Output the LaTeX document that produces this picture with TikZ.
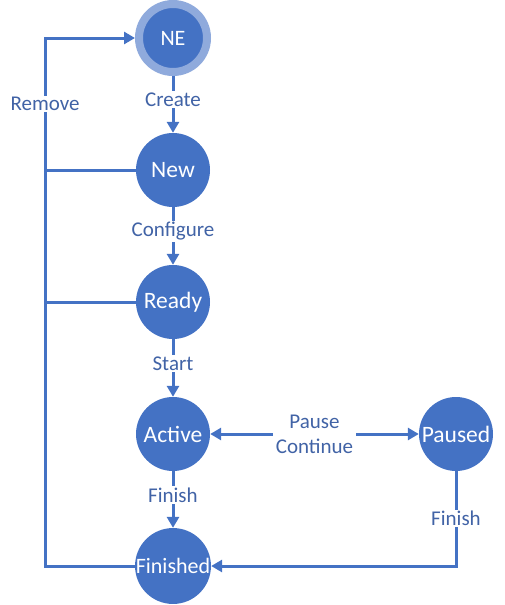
\documentclass[tikz,border=0pt]{standalone}
\usepackage{fontspec}
\setmainfont{Carlito}
\usetikzlibrary{arrows.meta}
\definecolor{sblue}{HTML}{4472C4}
\definecolor{ring}{HTML}{8FAADC}
\definecolor{lblc}{HTML}{4163A6}
\tikzset{
  state/.style={circle, fill=sblue, inner sep=0pt, minimum size=74pt, text=white, font=\fontsize{23.5}{26}\selectfont},
  edge/.style={draw=sblue, line width=3pt},
  arr/.style={-{Triangle[length=11pt,width=12pt]}},
  lbl/.style={fill=white, inner sep=1.5pt, text=lblc, font=\fontsize{21}{25}\selectfont}
}
\begin{document}
\begin{tikzpicture}[x=1pt,y=-1pt]
\useasboundingbox (0,0) rectangle (504,605);
\node[state, minimum size=68pt, draw=ring, line width=8pt, font=\fontsize{22}{24}\selectfont] (ne) at (173,38) {NE};
\node[state] (new) at (173,170) {New};
\node[state] (ready) at (173,302) {Ready};
\node[state] (active) at (173,434) {Active};
\node[state] (paused) at (456,434) {Paused};
\node[state, font=\fontsize{22}{24}\selectfont] (fin) at (173,566) {Finished};
\coordinate (lb) at (45,566);
\coordinate (lt) at (45,38);
\coordinate (nl) at (45,170);
\coordinate (rl) at (45,302);
\coordinate (pc) at (456,566);

\draw[edge,arr] (ne) -- node[lbl, pos=0.42]{Create} (new);
\draw[edge,arr] (new) -- node[lbl, pos=0.42]{Configure} (ready);
\draw[edge,arr] (ready) -- node[lbl, pos=0.42]{Start} (active);
\draw[edge,arr] (active) -- node[lbl, pos=0.42]{Finish} (fin);
\draw[edge,{Triangle[length=11pt,width=12pt]}-{Triangle[length=11pt,width=12pt]}] (active) -- node[lbl, align=center, inner sep=3pt]{Pause\\Continue} (paused);
\draw[edge,arr] (paused) -- node[lbl]{Finish} (pc) -- (fin);
\draw[edge,arr] (fin) -- (lb) -- node[lbl, pos=0.875]{Remove} (lt) -- (ne);
\draw[edge] (new) -- (nl);
\draw[edge] (ready) -- (rl);
\end{tikzpicture}
\end{document}
